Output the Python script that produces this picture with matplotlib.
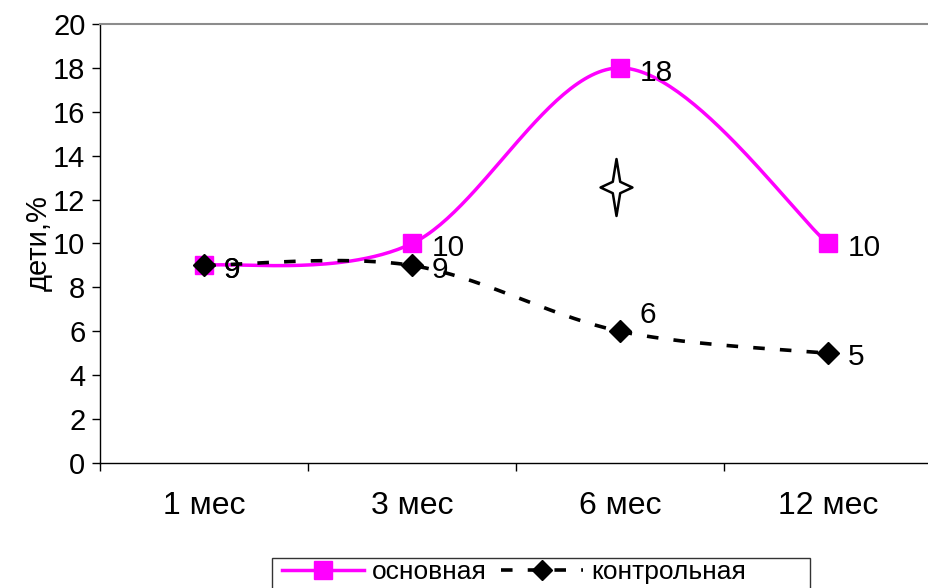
import numpy as np
import matplotlib
matplotlib.use("Agg")
from matplotlib import pyplot as plt
from matplotlib.path import Path
from matplotlib.patches import Rectangle
from matplotlib.lines import Line2D

plt.rcParams["font.family"] = ["Liberation Sans", "DejaVu Sans"]

months = ["1 мес", "3 мес", "6 мес", "12 мес"]
main_group = [9, 10, 18, 10]
control_group = [9, 9, 6, 5]
series_names = ["основная", "контрольная"]
y_label = "дети,%"
star_pos = (1.98, 12.57)

MAGENTA = "#ff00ff"
DASH = (0, (3.2, 4.2))


def smooth(xs, ys, n=60):
    """Cubic Bezier through every point, control points taken the
    Catmull-Rom way (like spreadsheet 'smoothed line')."""
    pts = np.column_stack([xs, ys]).astype(float)
    pts_ext = np.vstack([pts[0], pts, pts[-1]])
    out = []
    t = np.linspace(0, 1, n)[:, None]
    for i in range(len(pts) - 1):
        p0, p1, p2, p3 = pts_ext[i], pts_ext[i + 1], pts_ext[i + 2], pts_ext[i + 3]
        b1 = p1 + (p2 - p0) / 6.0
        b2 = p2 - (p3 - p1) / 6.0
        seg = ((1 - t) ** 3) * p1 + 3 * ((1 - t) ** 2) * t * b1 \
            + 3 * (1 - t) * t ** 2 * b2 + t ** 3 * p2
        out.append(seg if i == 0 else seg[1:])
    seg = np.vstack(out)
    return seg[:, 0], seg[:, 1]


fig = plt.figure(figsize=(9.29, 5.88), dpi=100)
ax = fig.add_axes([100 / 929, 1 - 463 / 588, 832 / 929, (463 - 24) / 588])

x = np.arange(len(months))

# main group: magenta smoothed line with squares
sx, sy = smooth(x, main_group)
ax.plot(sx, sy, color=MAGENTA, lw=2.5, solid_capstyle="butt", zorder=3)
ax.plot(x, main_group, "s", color=MAGENTA, markersize=13.5, zorder=4)

# control group: black dashed smoothed line with diamonds
cx, cy = smooth(x, control_group)
ax.plot(cx, cy, color="black", lw=2.6, linestyle=DASH, zorder=5)
ax.plot(x, control_group, "D", color="black", markersize=11, zorder=6)

# value labels
for xi, v in zip(x, main_group):
    ax.annotate(str(v), (xi, v), xytext=(14, -3.5), textcoords="offset points",
                ha="left", va="center", fontsize=21.5, zorder=7)
for xi, v in zip(x, control_group):
    dy = 11.5 if v == 6 else -3.0
    ax.annotate(str(v), (xi, v), xytext=(14, dy), textcoords="offset points",
                ha="left", va="center", fontsize=21.5, zorder=7)

# four-pointed star mark
star = Path([(0, 1), (0.13, 0.2), (0.56, 0), (0.13, -0.2), (0, -1),
             (-0.13, -0.2), (-0.56, 0), (-0.13, 0.2), (0, 1)],
            [Path.MOVETO] + [Path.LINETO] * 7 + [Path.CLOSEPOLY])
ax.plot([star_pos[0]], [star_pos[1]], marker=star, markersize=41,
        markerfacecolor="white", markeredgecolor="black", markeredgewidth=1.8,
        linestyle="none", zorder=7)

ax.set_xlim(-0.5, len(months) - 0.5)
ax.set_ylim(0, 20)
ax.set_yticks(np.arange(0, 21, 2))
ax.set_xticks(x)
ax.set_xticklabels(months)
ax.set_xticks(np.arange(-0.5, len(months), 1.0), minor=True)
ax.tick_params(axis="x", which="major", length=0, pad=20, labelsize=23)
ax.tick_params(axis="x", which="minor", length=6, width=1, direction="out")
ax.tick_params(axis="y", length=5.5, width=1, direction="out", pad=5, labelsize=21)
ax.set_ylabel(y_label, fontsize=21, labelpad=0)

ax.spines["right"].set_visible(False)
ax.spines["top"].set_color("#8c8c8c")
ax.spines["top"].set_linewidth(1.5)
for s in ("left", "bottom"):
    ax.spines[s].set_color("black")
    ax.spines[s].set_linewidth(1)

# legend at the bottom, inside a box that runs off the lower edge
handles = [
    Line2D([], [], color=MAGENTA, lw=2.5, marker="s", markersize=13),
    Line2D([], [], color="black", lw=2.6, linestyle=DASH,
           marker="D", markersize=10),
]
fig.legend(handles, series_names, loc="center left",
           bbox_to_anchor=(282 / 929, 1 - 572 / 588), ncol=2, frameon=False,
           fontsize=19, handlelength=3.1, handletextpad=0.3,
           columnspacing=0.55, borderpad=0, borderaxespad=0)
fig.add_artist(Rectangle((272 / 929, -0.05), (810 - 272) / 929,
                         0.05 + 1 - 558 / 588, transform=fig.transFigure,
                         fill=False, edgecolor="#333333", lw=1, clip_on=False))

fig.savefig("out.png", dpi=100)
